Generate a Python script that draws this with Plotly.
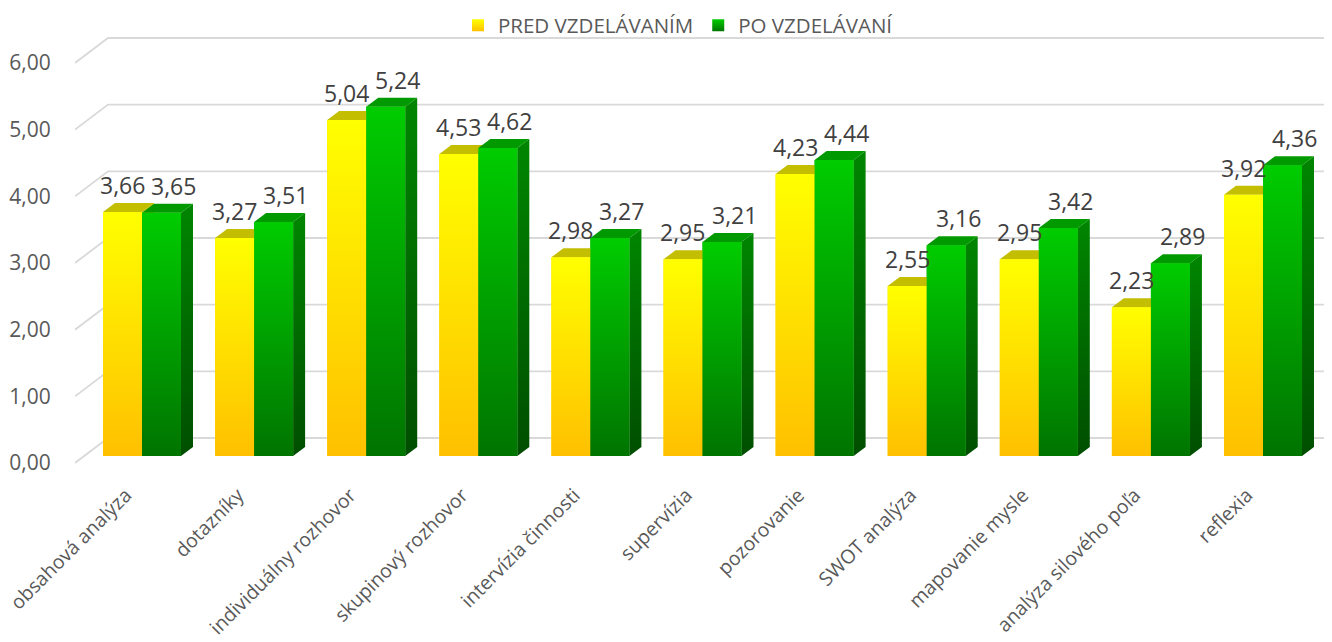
import plotly.graph_objects as go

# ---------------- data ----------------
categories = ["obsahová analýza", "dotazníky", "individuálny rozhovor", "skupinový rozhovor",
              "intervízia činnosti", "supervízia", "pozorovanie", "SWOT analýza",
              "mapovanie mysle", "analýza silového poľa", "reflexia"]
pred = [3.66, 3.27, 5.04, 4.53, 2.98, 2.95, 4.23, 2.55, 2.95, 2.23, 3.92]
po = [3.65, 3.51, 5.24, 4.62, 3.27, 3.21, 4.44, 3.16, 3.42, 2.89, 4.36]
series_names = ["PRED VZDELÁVANÍM", "PO VZDELÁVANÍ"]
y_ticks = [0, 1, 2, 3, 4, 5, 6]

# ---------------- geometry / style constants (pixels) ----------------
W, H = 1332, 642
OFF = 8             # page body margin of the html page
L, R, T, B = 75 - OFF, 1332 - OFF, 30 - OFF, 470 - OFF
PX = 112.1          # px per category
X0 = 142 - OFF      # px of category 0 centre
PY = 66.67          # px per value unit
Y0_FRONT = 463 - OFF  # px of value 0 on the front floor edge (tick labels)
Y0_BAR = 456 - OFF    # px of value 0 on the bar front plane
BACK_DX, BACK_DY = 33, 25
DEPTH_DX, DEPTH_DY = 12, 9
BAR_W = 0.348
FONT = "Open Sans"

styles = [
    dict(front=("#FFC000", "#FFFF00"), top="#C4BE00", side=("#B08800", "#C8C000"),
         legend="#FFDD00", xshift=0),
    dict(front=("#007400", "#00CC00"), top="#009A00", side=("#004E00", "#008600"),
         legend="#00A800", xshift=12),
]

xr_min, xr_max = (L - X0) / PX, (R - X0) / PX
y_front_range = [(Y0_FRONT - B) / PY, (Y0_FRONT - T) / PY]
y_bar_range = [(Y0_BAR - B) / PY, (Y0_BAR - T) / PY]
dx, dy = DEPTH_DX / PX, DEPTH_DY / PY

fig = go.Figure()

# gridlines (front diagonal + back wall) on the front-plane axis
gx, gy = [], []
for v in y_ticks:
    gx += [xr_min, (L + BACK_DX - X0) / PX, xr_max + 0.2, None]
    gy += [v, v + BACK_DY / PY, v + BACK_DY / PY, None]
fig.add_trace(go.Scatter(x=gx, y=gy, mode="lines", line=dict(color="#D9D9D9", width=1.8),
                         hoverinfo="skip", showlegend=False, xaxis="x", yaxis="y"))

xpos = list(range(len(categories)))
all_series = [pred, po]

# bar traces (bar plane axis)
for s, vals in enumerate(all_series):
    fig.add_trace(go.Bar(x=xpos, y=vals, name=series_names[s], xaxis="x", yaxis="y2",
                         marker=dict(color=styles[s]["legend"], line=dict(width=0)),
                         offsetgroup=str(s), showlegend=False, legendgroup=str(s)))

# 3D faces drawn left to right over the bars
annotations = []
for i in xpos:
    for s, vals in enumerate(all_series):
        v = vals[i]
        st = styles[s]
        xl = i - BAR_W + s * BAR_W
        xr = xl + BAR_W
        # top face
        fig.add_trace(go.Scatter(x=[xl, xr, xr + dx, xl + dx, xl], y=[v, v, v + dy, v + dy, v],
                                 mode="none", fill="toself", fillcolor=st["top"],
                                 hoverinfo="skip", showlegend=False, xaxis="x", yaxis="y2"))
        # side face
        fig.add_trace(go.Scatter(x=[xr, xr, xr + dx, xr + dx, xr], y=[0, v, v + dy, dy, 0],
                                 mode="none", fill="toself",
                                 fillgradient=dict(type="vertical",
                                                   colorscale=[[0, st["side"][0]], [1, st["side"][1]]]),
                                 hoverinfo="skip", showlegend=False, xaxis="x", yaxis="y2"))
        # front face
        fig.add_trace(go.Scatter(x=[xl, xr, xr, xl, xl], y=[0, 0, v, v, 0],
                                 mode="none", fill="toself",
                                 fillgradient=dict(type="vertical",
                                                   colorscale=[[0, st["front"][0]], [1, st["front"][1]]]),
                                 hoverinfo="skip", showlegend=False, xaxis="x", yaxis="y2"))
        annotations.append(dict(x=(xl + xr) / 2, y=v, xref="x", yref="y2",
                                text=f"{v:.2f}".replace(".", ","), showarrow=False,
                                yanchor="bottom", yshift=9, xshift=st["xshift"],
                                font=dict(family=FONT, size=23, color="#404040")))

# legend entries (gradient squares)
for s in range(2):
    st = styles[s]
    fig.add_trace(go.Scatter(x=[None], y=[None], mode="markers", name=series_names[s],
                             legendgroup=str(s), xaxis="x", yaxis="y2",
                             marker=dict(symbol="square", size=14, color=st["front"][1],
                                         gradient=dict(type="vertical", color=st["front"][0]),
                                         line=dict(width=0))))

fig.update_layout(
    width=W, height=H,
    margin=dict(l=L, r=W - R, t=T, b=H - B, autoexpand=False),
    paper_bgcolor="white", plot_bgcolor="rgba(0,0,0,0)",
    separators=", ",
    barmode="group", bargap=1 - 2 * BAR_W, bargroupgap=0,
    font=dict(family=FONT, color="#595959"),
    xaxis=dict(range=[xr_min, xr_max], tickvals=xpos, ticktext=categories, tickangle=-45,
               showgrid=False, zeroline=False, showline=False, ticks="",
               ticklabelshift=-16, ticklabelstandoff=9, ticklabeloverflow="allow",
               tickfont=dict(family=FONT, size=19.5, color="#595959")),
    yaxis=dict(range=y_front_range, tickvals=y_ticks, tickformat=".2f", showgrid=False,
               zeroline=False, showline=False, ticks="outside", ticklen=19,
               tickcolor="rgba(0,0,0,0)",
               tickfont=dict(family=FONT, size=21, color="#595959")),
    yaxis2=dict(range=y_bar_range, overlaying="y", showgrid=False, zeroline=False,
                showline=False, showticklabels=False, ticks=""),
    legend=dict(orientation="h", xref="container", yref="container", x=0.503, y=0.9727,
                xanchor="center", yanchor="middle", bgcolor="rgba(0,0,0,0)",
                font=dict(family=FONT, size=20.5, color="#595959"),
                itemsizing="constant"),
    annotations=annotations,
    showlegend=True,
)

fig.write_html("out.html")
